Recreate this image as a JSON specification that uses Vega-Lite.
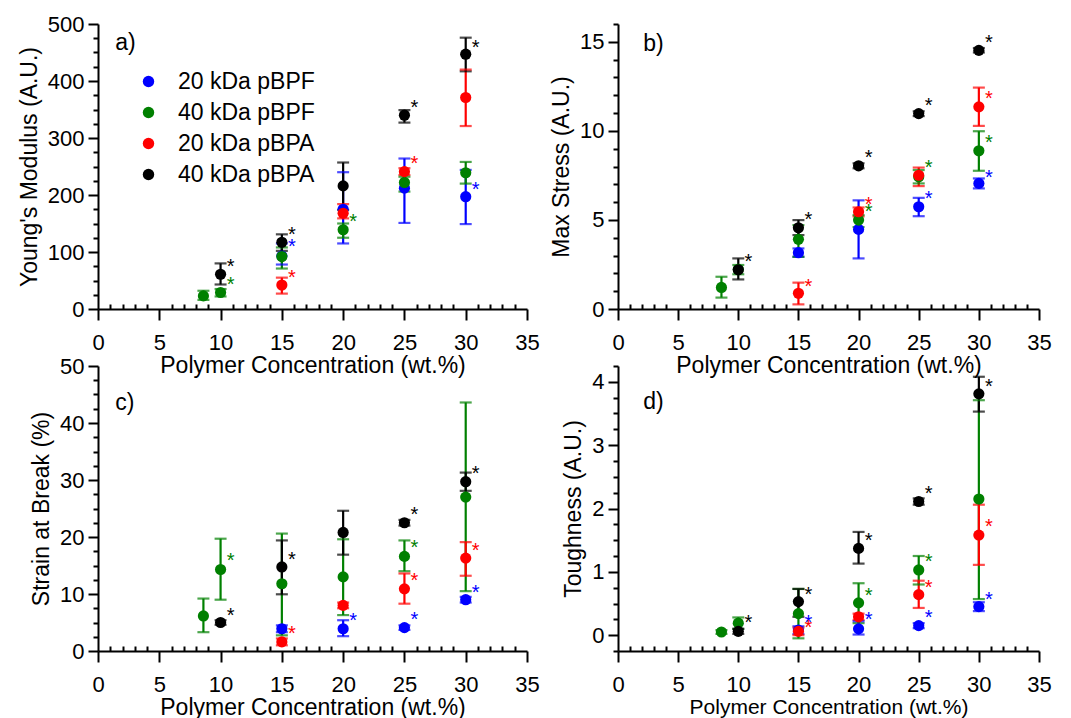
{
  "$schema": "https://vega.github.io/schema/vega-lite/v6.json",
  "padding": {"left": 18, "top": 13, "right": 10, "bottom": 5},
  "datasets": {
    "d": [
      {"p": "a", "s": "20 kDa pBPF", "x": 15, "y": 93, "lo": 78, "hi": 115, "sy": 118},
      {"p": "a", "s": "20 kDa pBPF", "x": 20, "y": 175, "lo": 115, "hi": 240, "sy": null},
      {"p": "a", "s": "20 kDa pBPF", "x": 25, "y": 212, "lo": 151, "hi": 264, "sy": null},
      {"p": "a", "s": "20 kDa pBPF", "x": 30, "y": 197, "lo": 149, "hi": 244, "sy": 218},
      {"p": "a", "s": "40 kDa pBPF", "x": 8.6, "y": 23, "lo": 16, "hi": 32, "sy": null},
      {"p": "a", "s": "40 kDa pBPF", "x": 10, "y": 29, "lo": 22, "hi": 35, "sy": 51},
      {"p": "a", "s": "40 kDa pBPF", "x": 15, "y": 92, "lo": 71, "hi": 108, "sy": null},
      {"p": "a", "s": "40 kDa pBPF", "x": 20, "y": 139, "lo": 125, "hi": 150, "sy": 161},
      {"p": "a", "s": "40 kDa pBPF", "x": 25, "y": 222, "lo": 206, "hi": 232, "sy": null},
      {"p": "a", "s": "40 kDa pBPF", "x": 30, "y": 239, "lo": 220, "hi": 258, "sy": null},
      {"p": "a", "s": "20 kDa pBPA", "x": 15, "y": 42, "lo": 27, "hi": 55, "sy": 63},
      {"p": "a", "s": "20 kDa pBPA", "x": 20, "y": 168, "lo": 159, "hi": 184, "sy": null},
      {"p": "a", "s": "20 kDa pBPA", "x": 25, "y": 241, "lo": 235, "hi": 247, "sy": 264},
      {"p": "a", "s": "20 kDa pBPA", "x": 30, "y": 371, "lo": 321, "hi": 420, "sy": null},
      {"p": "a", "s": "40 kDa pBPA", "x": 10, "y": 61, "lo": 43, "hi": 80, "sy": 83},
      {"p": "a", "s": "40 kDa pBPA", "x": 15, "y": 117, "lo": 102, "hi": 131, "sy": 139},
      {"p": "a", "s": "40 kDa pBPA", "x": 20, "y": 216, "lo": 174, "hi": 257, "sy": null},
      {"p": "a", "s": "40 kDa pBPA", "x": 25, "y": 340, "lo": 327, "hi": 349, "sy": 361},
      {"p": "a", "s": "40 kDa pBPA", "x": 30, "y": 447, "lo": 417, "hi": 476, "sy": 466},

      {"p": "b", "s": "20 kDa pBPF", "x": 15, "y": 3.16, "lo": 2.93, "hi": 3.40, "sy": null},
      {"p": "b", "s": "20 kDa pBPF", "x": 20, "y": 4.47, "lo": 2.84, "hi": 6.10, "sy": null},
      {"p": "b", "s": "20 kDa pBPF", "x": 25, "y": 5.74, "lo": 5.21, "hi": 6.24, "sy": 6.43},
      {"p": "b", "s": "20 kDa pBPF", "x": 30, "y": 7.05, "lo": 6.77, "hi": 7.33, "sy": 7.66},
      {"p": "b", "s": "40 kDa pBPF", "x": 8.6, "y": 1.21, "lo": 0.64, "hi": 1.81, "sy": null},
      {"p": "b", "s": "40 kDa pBPF", "x": 10, "y": 2.22, "lo": 1.95, "hi": 2.47, "sy": null},
      {"p": "b", "s": "40 kDa pBPF", "x": 15, "y": 3.91, "lo": 2.93, "hi": 4.71, "sy": null},
      {"p": "b", "s": "40 kDa pBPF", "x": 20, "y": 4.99, "lo": 4.6, "hi": 5.27, "sy": 5.70},
      {"p": "b", "s": "40 kDa pBPF", "x": 25, "y": 7.42, "lo": 7.05, "hi": 7.8, "sy": 8.17},
      {"p": "b", "s": "40 kDa pBPF", "x": 30, "y": 8.88, "lo": 7.76, "hi": 9.98, "sy": 9.61},
      {"p": "b", "s": "20 kDa pBPA", "x": 15, "y": 0.88, "lo": 0.26, "hi": 1.48, "sy": 1.53},
      {"p": "b", "s": "20 kDa pBPA", "x": 20, "y": 5.46, "lo": 5.2, "hi": 5.7, "sy": 6.11},
      {"p": "b", "s": "20 kDa pBPA", "x": 25, "y": 7.51, "lo": 6.9, "hi": 7.94, "sy": null},
      {"p": "b", "s": "20 kDa pBPA", "x": 30, "y": 11.35, "lo": 10.28, "hi": 12.43, "sy": 12.09},
      {"p": "b", "s": "40 kDa pBPA", "x": 10, "y": 2.2, "lo": 1.66, "hi": 2.84, "sy": 2.93},
      {"p": "b", "s": "40 kDa pBPA", "x": 15, "y": 4.56, "lo": 4.15, "hi": 4.99, "sy": 5.27},
      {"p": "b", "s": "40 kDa pBPA", "x": 20, "y": 8.04, "lo": 7.9, "hi": 8.18, "sy": 8.73},
      {"p": "b", "s": "40 kDa pBPA", "x": 25, "y": 10.97, "lo": 10.83, "hi": 11.1, "sy": 11.68},
      {"p": "b", "s": "40 kDa pBPA", "x": 30, "y": 14.52, "lo": 14.4, "hi": 14.65, "sy": 15.23},

      {"p": "c", "s": "20 kDa pBPF", "x": 15, "y": 3.9, "lo": 3.3, "hi": 4.5, "sy": null},
      {"p": "c", "s": "20 kDa pBPF", "x": 20, "y": 3.9, "lo": 2.6, "hi": 5.4, "sy": 6.1},
      {"p": "c", "s": "20 kDa pBPF", "x": 25, "y": 4.1, "lo": 3.7, "hi": 4.5, "sy": 6.3},
      {"p": "c", "s": "20 kDa pBPF", "x": 30, "y": 9.0, "lo": 8.5, "hi": 9.5, "sy": 11.1},
      {"p": "c", "s": "40 kDa pBPF", "x": 8.6, "y": 6.15, "lo": 3.3, "hi": 9.2, "sy": null},
      {"p": "c", "s": "40 kDa pBPF", "x": 10, "y": 14.3, "lo": 9.0, "hi": 19.7, "sy": 16.6},
      {"p": "c", "s": "40 kDa pBPF", "x": 15, "y": 11.8, "lo": 2.75, "hi": 20.6, "sy": null},
      {"p": "c", "s": "40 kDa pBPF", "x": 20, "y": 13.0, "lo": 6.3, "hi": 19.6, "sy": null},
      {"p": "c", "s": "40 kDa pBPF", "x": 25, "y": 16.6, "lo": 14.0, "hi": 19.4, "sy": 19.0},
      {"p": "c", "s": "40 kDa pBPF", "x": 30, "y": 27.0, "lo": 10.5, "hi": 43.6, "sy": null},
      {"p": "c", "s": "20 kDa pBPA", "x": 15, "y": 1.6, "lo": 1.0, "hi": 2.2, "sy": 3.9},
      {"p": "c", "s": "20 kDa pBPA", "x": 20, "y": 8.0, "lo": 7.5, "hi": 8.5, "sy": null},
      {"p": "c", "s": "20 kDa pBPA", "x": 25, "y": 10.9, "lo": 8.3, "hi": 13.6, "sy": 13.1},
      {"p": "c", "s": "20 kDa pBPA", "x": 30, "y": 16.3, "lo": 13.2, "hi": 19.1, "sy": 18.4},
      {"p": "c", "s": "40 kDa pBPA", "x": 10, "y": 5.0, "lo": 4.6, "hi": 5.4, "sy": 7.1},
      {"p": "c", "s": "40 kDa pBPA", "x": 15, "y": 14.75, "lo": 9.95, "hi": 19.4, "sy": 16.8},
      {"p": "c", "s": "40 kDa pBPA", "x": 20, "y": 20.8, "lo": 16.9, "hi": 24.6, "sy": null},
      {"p": "c", "s": "40 kDa pBPA", "x": 25, "y": 22.5, "lo": 22.0, "hi": 23.0, "sy": 24.7},
      {"p": "c", "s": "40 kDa pBPA", "x": 30, "y": 29.7, "lo": 28.1, "hi": 31.3, "sy": 31.9},

      {"p": "d", "s": "20 kDa pBPF", "x": 15, "y": 0.08, "lo": 0.02, "hi": 0.14, "sy": 0.27},
      {"p": "d", "s": "20 kDa pBPF", "x": 20, "y": 0.10, "lo": 0.01, "hi": 0.22, "sy": 0.32},
      {"p": "d", "s": "20 kDa pBPF", "x": 25, "y": 0.15, "lo": 0.11, "hi": 0.19, "sy": 0.35},
      {"p": "d", "s": "20 kDa pBPF", "x": 30, "y": 0.45, "lo": 0.38, "hi": 0.52, "sy": 0.64},
      {"p": "d", "s": "40 kDa pBPF", "x": 8.6, "y": 0.05, "lo": 0.02, "hi": 0.08, "sy": null},
      {"p": "d", "s": "40 kDa pBPF", "x": 10, "y": 0.19, "lo": 0.1, "hi": 0.28, "sy": null},
      {"p": "d", "s": "40 kDa pBPF", "x": 15, "y": 0.34, "lo": -0.05, "hi": 0.73, "sy": null},
      {"p": "d", "s": "40 kDa pBPF", "x": 20, "y": 0.51, "lo": 0.19, "hi": 0.82, "sy": 0.7},
      {"p": "d", "s": "40 kDa pBPF", "x": 25, "y": 1.03, "lo": 0.8, "hi": 1.25, "sy": 1.23},
      {"p": "d", "s": "40 kDa pBPF", "x": 30, "y": 2.15, "lo": 0.57, "hi": 3.71, "sy": null},
      {"p": "d", "s": "20 kDa pBPA", "x": 15, "y": 0.06, "lo": 0.0, "hi": 0.12, "sy": 0.2},
      {"p": "d", "s": "20 kDa pBPA", "x": 20, "y": 0.29, "lo": 0.24, "hi": 0.34, "sy": null},
      {"p": "d", "s": "20 kDa pBPA", "x": 25, "y": 0.64, "lo": 0.43, "hi": 0.86, "sy": 0.83},
      {"p": "d", "s": "20 kDa pBPA", "x": 30, "y": 1.58, "lo": 1.11, "hi": 2.06, "sy": 1.78},
      {"p": "d", "s": "40 kDa pBPA", "x": 10, "y": 0.06, "lo": 0.02, "hi": 0.1, "sy": 0.27},
      {"p": "d", "s": "40 kDa pBPA", "x": 15, "y": 0.53, "lo": 0.29, "hi": 0.73, "sy": 0.72},
      {"p": "d", "s": "40 kDa pBPA", "x": 20, "y": 1.37, "lo": 1.13, "hi": 1.63, "sy": 1.57},
      {"p": "d", "s": "40 kDa pBPA", "x": 25, "y": 2.11, "lo": 2.06, "hi": 2.16, "sy": 2.31},
      {"p": "d", "s": "40 kDa pBPA", "x": 30, "y": 3.81, "lo": 3.53, "hi": 4.08, "sy": 4.0}
    ],
    "labels": [
      {"p": "a", "lbl": "a)", "lx": 1.4, "ly": 467},
      {"p": "b", "lbl": "b)", "lx": 2.1, "ly": 14.9},
      {"p": "c", "lbl": "c)", "lx": 1.4, "ly": 43.5},
      {"p": "d", "lbl": "d)", "lx": 2.1, "ly": 3.68}
    ]
  },
  "data": {"name": "d"},
  "columns": 2,
  "spacing": {"row": 57, "column": 91},
  "bounds": "flush",
  "resolve": {"legend": {"color": "independent"}},
  "concat": [
    {
      "width": 429, "height": 285,
      "encoding": {
        "x": {"field": "x", "type": "quantitative", "title": "Polymer Concentration (wt.%)",
              "scale": {"domain": [0, 35], "nice": false},
              "axis": {"values": [0,1,2,3,4,5,6,7,8,9,10,11,12,13,14,15,16,17,18,19,20,21,22,23,24,25,26,27,28,29,30,31,32,33,34,35], "tickCount": 100,
                       "labelExpr": "datum.value % 5 === 0 ? format(datum.value, 'd') : ''",
                       "tickSize": {"condition": {"test": "datum.value % 5 === 0", "value": 11}, "value": -5}}},
        "color": {"field": "s", "type": "nominal",
                  "scale": {"domain": ["20 kDa pBPF", "40 kDa pBPF", "20 kDa pBPA", "40 kDa pBPA"], "range": ["#0000FF", "#008000", "#FF0000", "#000000"]},
                  "legend": {"orient": "none", "legendX": 39, "legendY": 46, "title": null, "symbolType": "circle", "symbolSize": 130, "symbolOpacity": 1, "symbolStrokeWidth": 0, "labelFontSize": 23, "labelOffset": 18, "rowPadding": 7, "padding": 0, "labelColor": "#000"}}
      },
      "layer": [
        {"transform": [{"filter": "datum.p === 'a'"}],
         "mark": {"type": "rule", "strokeWidth": 2.2},
         "encoding": {"y": {"field": "lo", "type": "quantitative", "title": "Young's Modulus (A.U.)", "scale": {"domain": [0, 500], "nice": false},
                            "axis": {"values": [0,25,50,75,100,125,150,175,200,225,250,275,300,325,350,375,400,425,450,475,500], "tickCount": 100,
                                     "labelExpr": "datum.value % 100 === 0 ? format(datum.value, 'd') : ''",
                                     "tickSize": {"condition": {"test": "datum.value % 100 === 0", "value": 10}, "value": 5}}},
                      "y2": {"field": "hi"}}},
        {"transform": [{"filter": "datum.p === 'a'"}],
         "mark": {"type": "tick", "orient": "horizontal", "size": 12, "thickness": 2.2},
         "encoding": {"y": {"field": "lo", "type": "quantitative", "title": "Young's Modulus (A.U.)", "scale": {"domain": [0, 500], "nice": false},
                            "axis": {"values": [0,25,50,75,100,125,150,175,200,225,250,275,300,325,350,375,400,425,450,475,500], "tickCount": 100,
                                     "labelExpr": "datum.value % 100 === 0 ? format(datum.value, 'd') : ''",
                                     "tickSize": {"condition": {"test": "datum.value % 100 === 0", "value": 10}, "value": 5}}}}},
        {"transform": [{"filter": "datum.p === 'a'"}],
         "mark": {"type": "tick", "orient": "horizontal", "size": 12, "thickness": 2.2},
         "encoding": {"y": {"field": "hi", "type": "quantitative", "title": "Young's Modulus (A.U.)", "scale": {"domain": [0, 500], "nice": false},
                            "axis": {"values": [0,25,50,75,100,125,150,175,200,225,250,275,300,325,350,375,400,425,450,475,500], "tickCount": 100,
                                     "labelExpr": "datum.value % 100 === 0 ? format(datum.value, 'd') : ''",
                                     "tickSize": {"condition": {"test": "datum.value % 100 === 0", "value": 10}, "value": 5}}}}},
        {"transform": [{"filter": "datum.p === 'a'"}],
         "mark": {"type": "circle", "size": 125, "opacity": 1},
         "encoding": {"y": {"field": "y", "type": "quantitative", "title": "Young's Modulus (A.U.)", "scale": {"domain": [0, 500], "nice": false},
                            "axis": {"values": [0,25,50,75,100,125,150,175,200,225,250,275,300,325,350,375,400,425,450,475,500], "tickCount": 100,
                                     "labelExpr": "datum.value % 100 === 0 ? format(datum.value, 'd') : ''",
                                     "tickSize": {"condition": {"test": "datum.value % 100 === 0", "value": 10}, "value": 5}}}}},
        {"transform": [{"filter": "datum.p === 'a' && datum.sy != null"}],
         "mark": {"type": "text", "text": "*", "fontSize": 20, "dx": 10, "dy": 11, "baseline": "alphabetic", "align": "center"},
         "encoding": {"y": {"field": "sy", "type": "quantitative", "title": "Young's Modulus (A.U.)", "scale": {"domain": [0, 500], "nice": false},
                            "axis": {"values": [0,25,50,75,100,125,150,175,200,225,250,275,300,325,350,375,400,425,450,475,500], "tickCount": 100,
                                     "labelExpr": "datum.value % 100 === 0 ? format(datum.value, 'd') : ''",
                                     "tickSize": {"condition": {"test": "datum.value % 100 === 0", "value": 10}, "value": 5}}}}},
        {"data": {"name": "labels"},
         "transform": [{"filter": "datum.p === 'a'"}],
         "mark": {"type": "text", "fontSize": 23, "align": "left", "baseline": "middle"},
         "encoding": {"x": {"field": "lx", "type": "quantitative", "title": "Polymer Concentration (wt.%)", "scale": {"domain": [0, 35], "nice": false}},
                      "y": {"field": "ly", "type": "quantitative", "title": "Young's Modulus (A.U.)", "scale": {"domain": [0, 500], "nice": false},
                            "axis": {"values": [0,25,50,75,100,125,150,175,200,225,250,275,300,325,350,375,400,425,450,475,500], "tickCount": 100,
                                     "labelExpr": "datum.value % 100 === 0 ? format(datum.value, 'd') : ''",
                                     "tickSize": {"condition": {"test": "datum.value % 100 === 0", "value": 10}, "value": 5}}},
                      "text": {"field": "lbl"}, "color": {"value": "#000"}}}
      ]
    },
    {
      "width": 421, "height": 285,
      "encoding": {
        "x": {"field": "x", "type": "quantitative", "title": "Polymer Concentration (wt.%)",
              "scale": {"domain": [0, 35], "nice": false},
              "axis": {"values": [0,1,2,3,4,5,6,7,8,9,10,11,12,13,14,15,16,17,18,19,20,21,22,23,24,25,26,27,28,29,30,31,32,33,34,35], "tickCount": 100,
                       "labelExpr": "datum.value % 5 === 0 ? format(datum.value, 'd') : ''",
                       "tickSize": {"condition": {"test": "datum.value % 5 === 0", "value": 11}, "value": -5}}},
        "color": {"field": "s", "type": "nominal",
                  "scale": {"domain": ["20 kDa pBPF", "40 kDa pBPF", "20 kDa pBPA", "40 kDa pBPA"], "range": ["#0000FF", "#008000", "#FF0000", "#000000"]},
                  "legend": null}
      },
      "layer": [
        {"transform": [{"filter": "datum.p === 'b'"}],
         "mark": {"type": "rule", "strokeWidth": 2.2},
         "encoding": {"y": {"field": "lo", "type": "quantitative", "title": "Max Stress (A.U.)", "scale": {"domain": [0, 16], "nice": false},
                            "axis": {"values": [0,1,2,3,4,5,6,7,8,9,10,11,12,13,14,15,16], "tickCount": 100,
                                     "labelExpr": "datum.value % 5 === 0 ? format(datum.value, 'd') : ''",
                                     "tickSize": {"condition": {"test": "datum.value % 5 === 0", "value": 10}, "value": 5}}},
                      "y2": {"field": "hi"}}},
        {"transform": [{"filter": "datum.p === 'b'"}],
         "mark": {"type": "tick", "orient": "horizontal", "size": 12, "thickness": 2.2},
         "encoding": {"y": {"field": "lo", "type": "quantitative", "title": "Max Stress (A.U.)", "scale": {"domain": [0, 16], "nice": false},
                            "axis": {"values": [0,1,2,3,4,5,6,7,8,9,10,11,12,13,14,15,16], "tickCount": 100,
                                     "labelExpr": "datum.value % 5 === 0 ? format(datum.value, 'd') : ''",
                                     "tickSize": {"condition": {"test": "datum.value % 5 === 0", "value": 10}, "value": 5}}}}},
        {"transform": [{"filter": "datum.p === 'b'"}],
         "mark": {"type": "tick", "orient": "horizontal", "size": 12, "thickness": 2.2},
         "encoding": {"y": {"field": "hi", "type": "quantitative", "title": "Max Stress (A.U.)", "scale": {"domain": [0, 16], "nice": false},
                            "axis": {"values": [0,1,2,3,4,5,6,7,8,9,10,11,12,13,14,15,16], "tickCount": 100,
                                     "labelExpr": "datum.value % 5 === 0 ? format(datum.value, 'd') : ''",
                                     "tickSize": {"condition": {"test": "datum.value % 5 === 0", "value": 10}, "value": 5}}}}},
        {"transform": [{"filter": "datum.p === 'b'"}],
         "mark": {"type": "circle", "size": 125, "opacity": 1},
         "encoding": {"y": {"field": "y", "type": "quantitative", "title": "Max Stress (A.U.)", "scale": {"domain": [0, 16], "nice": false},
                            "axis": {"values": [0,1,2,3,4,5,6,7,8,9,10,11,12,13,14,15,16], "tickCount": 100,
                                     "labelExpr": "datum.value % 5 === 0 ? format(datum.value, 'd') : ''",
                                     "tickSize": {"condition": {"test": "datum.value % 5 === 0", "value": 10}, "value": 5}}}}},
        {"transform": [{"filter": "datum.p === 'b' && datum.sy != null"}],
         "mark": {"type": "text", "text": "*", "fontSize": 20, "dx": 10, "dy": 11, "baseline": "alphabetic", "align": "center"},
         "encoding": {"y": {"field": "sy", "type": "quantitative", "title": "Max Stress (A.U.)", "scale": {"domain": [0, 16], "nice": false},
                            "axis": {"values": [0,1,2,3,4,5,6,7,8,9,10,11,12,13,14,15,16], "tickCount": 100,
                                     "labelExpr": "datum.value % 5 === 0 ? format(datum.value, 'd') : ''",
                                     "tickSize": {"condition": {"test": "datum.value % 5 === 0", "value": 10}, "value": 5}}}}},
        {"data": {"name": "labels"},
         "transform": [{"filter": "datum.p === 'b'"}],
         "mark": {"type": "text", "fontSize": 23, "align": "left", "baseline": "middle"},
         "encoding": {"x": {"field": "lx", "type": "quantitative", "title": "Polymer Concentration (wt.%)", "scale": {"domain": [0, 35], "nice": false}},
                      "y": {"field": "ly", "type": "quantitative", "title": "Max Stress (A.U.)", "scale": {"domain": [0, 16], "nice": false},
                            "axis": {"values": [0,1,2,3,4,5,6,7,8,9,10,11,12,13,14,15,16], "tickCount": 100,
                                     "labelExpr": "datum.value % 5 === 0 ? format(datum.value, 'd') : ''",
                                     "tickSize": {"condition": {"test": "datum.value % 5 === 0", "value": 10}, "value": 5}}},
                      "text": {"field": "lbl"}, "color": {"value": "#000"}}}
      ]
    },
    {
      "width": 429, "height": 285,
      "encoding": {
        "x": {"field": "x", "type": "quantitative", "title": "Polymer Concentration (wt.%)",
              "scale": {"domain": [0, 35], "nice": false},
              "axis": {"values": [0,1,2,3,4,5,6,7,8,9,10,11,12,13,14,15,16,17,18,19,20,21,22,23,24,25,26,27,28,29,30,31,32,33,34,35], "tickCount": 100,
                       "labelExpr": "datum.value % 5 === 0 ? format(datum.value, 'd') : ''",
                       "tickSize": {"condition": {"test": "datum.value % 5 === 0", "value": 11}, "value": -5}}},
        "color": {"field": "s", "type": "nominal",
                  "scale": {"domain": ["20 kDa pBPF", "40 kDa pBPF", "20 kDa pBPA", "40 kDa pBPA"], "range": ["#0000FF", "#008000", "#FF0000", "#000000"]},
                  "legend": null}
      },
      "layer": [
        {"transform": [{"filter": "datum.p === 'c'"}],
         "mark": {"type": "rule", "strokeWidth": 2.2},
         "encoding": {"y": {"field": "lo", "type": "quantitative", "title": "Strain at Break (%)", "scale": {"domain": [0, 50], "nice": false},
                            "axis": {"values": [0,2.5,5,7.5,10,12.5,15,17.5,20,22.5,25,27.5,30,32.5,35,37.5,40,42.5,45,47.5,50], "tickCount": 100,
                                     "labelExpr": "datum.value % 10 === 0 ? format(datum.value, 'd') : ''",
                                     "tickSize": {"condition": {"test": "datum.value % 10 === 0", "value": 10}, "value": 5}}},
                      "y2": {"field": "hi"}}},
        {"transform": [{"filter": "datum.p === 'c'"}],
         "mark": {"type": "tick", "orient": "horizontal", "size": 12, "thickness": 2.2},
         "encoding": {"y": {"field": "lo", "type": "quantitative", "title": "Strain at Break (%)", "scale": {"domain": [0, 50], "nice": false},
                            "axis": {"values": [0,2.5,5,7.5,10,12.5,15,17.5,20,22.5,25,27.5,30,32.5,35,37.5,40,42.5,45,47.5,50], "tickCount": 100,
                                     "labelExpr": "datum.value % 10 === 0 ? format(datum.value, 'd') : ''",
                                     "tickSize": {"condition": {"test": "datum.value % 10 === 0", "value": 10}, "value": 5}}}}},
        {"transform": [{"filter": "datum.p === 'c'"}],
         "mark": {"type": "tick", "orient": "horizontal", "size": 12, "thickness": 2.2},
         "encoding": {"y": {"field": "hi", "type": "quantitative", "title": "Strain at Break (%)", "scale": {"domain": [0, 50], "nice": false},
                            "axis": {"values": [0,2.5,5,7.5,10,12.5,15,17.5,20,22.5,25,27.5,30,32.5,35,37.5,40,42.5,45,47.5,50], "tickCount": 100,
                                     "labelExpr": "datum.value % 10 === 0 ? format(datum.value, 'd') : ''",
                                     "tickSize": {"condition": {"test": "datum.value % 10 === 0", "value": 10}, "value": 5}}}}},
        {"transform": [{"filter": "datum.p === 'c'"}],
         "mark": {"type": "circle", "size": 125, "opacity": 1},
         "encoding": {"y": {"field": "y", "type": "quantitative", "title": "Strain at Break (%)", "scale": {"domain": [0, 50], "nice": false},
                            "axis": {"values": [0,2.5,5,7.5,10,12.5,15,17.5,20,22.5,25,27.5,30,32.5,35,37.5,40,42.5,45,47.5,50], "tickCount": 100,
                                     "labelExpr": "datum.value % 10 === 0 ? format(datum.value, 'd') : ''",
                                     "tickSize": {"condition": {"test": "datum.value % 10 === 0", "value": 10}, "value": 5}}}}},
        {"transform": [{"filter": "datum.p === 'c' && datum.sy != null"}],
         "mark": {"type": "text", "text": "*", "fontSize": 20, "dx": 10, "dy": 11, "baseline": "alphabetic", "align": "center"},
         "encoding": {"y": {"field": "sy", "type": "quantitative", "title": "Strain at Break (%)", "scale": {"domain": [0, 50], "nice": false},
                            "axis": {"values": [0,2.5,5,7.5,10,12.5,15,17.5,20,22.5,25,27.5,30,32.5,35,37.5,40,42.5,45,47.5,50], "tickCount": 100,
                                     "labelExpr": "datum.value % 10 === 0 ? format(datum.value, 'd') : ''",
                                     "tickSize": {"condition": {"test": "datum.value % 10 === 0", "value": 10}, "value": 5}}}}},
        {"data": {"name": "labels"},
         "transform": [{"filter": "datum.p === 'c'"}],
         "mark": {"type": "text", "fontSize": 23, "align": "left", "baseline": "middle"},
         "encoding": {"x": {"field": "lx", "type": "quantitative", "title": "Polymer Concentration (wt.%)", "scale": {"domain": [0, 35], "nice": false}},
                      "y": {"field": "ly", "type": "quantitative", "title": "Strain at Break (%)", "scale": {"domain": [0, 50], "nice": false},
                            "axis": {"values": [0,2.5,5,7.5,10,12.5,15,17.5,20,22.5,25,27.5,30,32.5,35,37.5,40,42.5,45,47.5,50], "tickCount": 100,
                                     "labelExpr": "datum.value % 10 === 0 ? format(datum.value, 'd') : ''",
                                     "tickSize": {"condition": {"test": "datum.value % 10 === 0", "value": 10}, "value": 5}}},
                      "text": {"field": "lbl"}, "color": {"value": "#000"}}}
      ]
    },
    {
      "width": 421, "height": 285,
      "encoding": {
        "x": {"field": "x", "type": "quantitative", "title": "Polymer Concentration (wt.%)",
              "scale": {"domain": [0, 35], "nice": false},
              "axis": {"values": [0,1,2,3,4,5,6,7,8,9,10,11,12,13,14,15,16,17,18,19,20,21,22,23,24,25,26,27,28,29,30,31,32,33,34,35], "tickCount": 100,
                       "labelExpr": "datum.value % 5 === 0 ? format(datum.value, 'd') : ''", "titleFontSize": 21,
                       "tickSize": {"condition": {"test": "datum.value % 5 === 0", "value": 11}, "value": -5}}},
        "color": {"field": "s", "type": "nominal",
                  "scale": {"domain": ["20 kDa pBPF", "40 kDa pBPF", "20 kDa pBPA", "40 kDa pBPA"], "range": ["#0000FF", "#008000", "#FF0000", "#000000"]},
                  "legend": null}
      },
      "layer": [
        {"transform": [{"filter": "datum.p === 'd'"}],
         "mark": {"type": "rule", "strokeWidth": 2.2},
         "encoding": {"y": {"field": "lo", "type": "quantitative", "title": "Toughness (A.U.)", "scale": {"domain": [-0.25, 4.25], "nice": false, "zero": false},
                            "axis": {"values": [-0.25,0,0.25,0.5,0.75,1,1.25,1.5,1.75,2,2.25,2.5,2.75,3,3.25,3.5,3.75,4,4.25], "tickCount": 100,
                                     "labelExpr": "datum.value % 1 === 0 ? format(datum.value, 'd') : ''",
                                     "tickSize": {"condition": {"test": "datum.value % 1 === 0", "value": 10}, "value": 5}}},
                      "y2": {"field": "hi"}}},
        {"transform": [{"filter": "datum.p === 'd'"}],
         "mark": {"type": "tick", "orient": "horizontal", "size": 12, "thickness": 2.2},
         "encoding": {"y": {"field": "lo", "type": "quantitative", "title": "Toughness (A.U.)", "scale": {"domain": [-0.25, 4.25], "nice": false, "zero": false},
                            "axis": {"values": [-0.25,0,0.25,0.5,0.75,1,1.25,1.5,1.75,2,2.25,2.5,2.75,3,3.25,3.5,3.75,4,4.25], "tickCount": 100,
                                     "labelExpr": "datum.value % 1 === 0 ? format(datum.value, 'd') : ''",
                                     "tickSize": {"condition": {"test": "datum.value % 1 === 0", "value": 10}, "value": 5}}}}},
        {"transform": [{"filter": "datum.p === 'd'"}],
         "mark": {"type": "tick", "orient": "horizontal", "size": 12, "thickness": 2.2},
         "encoding": {"y": {"field": "hi", "type": "quantitative", "title": "Toughness (A.U.)", "scale": {"domain": [-0.25, 4.25], "nice": false, "zero": false},
                            "axis": {"values": [-0.25,0,0.25,0.5,0.75,1,1.25,1.5,1.75,2,2.25,2.5,2.75,3,3.25,3.5,3.75,4,4.25], "tickCount": 100,
                                     "labelExpr": "datum.value % 1 === 0 ? format(datum.value, 'd') : ''",
                                     "tickSize": {"condition": {"test": "datum.value % 1 === 0", "value": 10}, "value": 5}}}}},
        {"transform": [{"filter": "datum.p === 'd'"}],
         "mark": {"type": "circle", "size": 125, "opacity": 1},
         "encoding": {"y": {"field": "y", "type": "quantitative", "title": "Toughness (A.U.)", "scale": {"domain": [-0.25, 4.25], "nice": false, "zero": false},
                            "axis": {"values": [-0.25,0,0.25,0.5,0.75,1,1.25,1.5,1.75,2,2.25,2.5,2.75,3,3.25,3.5,3.75,4,4.25], "tickCount": 100,
                                     "labelExpr": "datum.value % 1 === 0 ? format(datum.value, 'd') : ''",
                                     "tickSize": {"condition": {"test": "datum.value % 1 === 0", "value": 10}, "value": 5}}}}},
        {"transform": [{"filter": "datum.p === 'd' && datum.sy != null"}],
         "mark": {"type": "text", "text": "*", "fontSize": 20, "dx": 10, "dy": 11, "baseline": "alphabetic", "align": "center"},
         "encoding": {"y": {"field": "sy", "type": "quantitative", "title": "Toughness (A.U.)", "scale": {"domain": [-0.25, 4.25], "nice": false, "zero": false},
                            "axis": {"values": [-0.25,0,0.25,0.5,0.75,1,1.25,1.5,1.75,2,2.25,2.5,2.75,3,3.25,3.5,3.75,4,4.25], "tickCount": 100,
                                     "labelExpr": "datum.value % 1 === 0 ? format(datum.value, 'd') : ''",
                                     "tickSize": {"condition": {"test": "datum.value % 1 === 0", "value": 10}, "value": 5}}}}},
        {"data": {"name": "labels"},
         "transform": [{"filter": "datum.p === 'd'"}],
         "mark": {"type": "text", "fontSize": 23, "align": "left", "baseline": "middle"},
         "encoding": {"x": {"field": "lx", "type": "quantitative", "title": "Polymer Concentration (wt.%)", "scale": {"domain": [0, 35], "nice": false}},
                      "y": {"field": "ly", "type": "quantitative", "title": "Toughness (A.U.)", "scale": {"domain": [-0.25, 4.25], "nice": false, "zero": false},
                            "axis": {"values": [-0.25,0,0.25,0.5,0.75,1,1.25,1.5,1.75,2,2.25,2.5,2.75,3,3.25,3.5,3.75,4,4.25], "tickCount": 100,
                                     "labelExpr": "datum.value % 1 === 0 ? format(datum.value, 'd') : ''",
                                     "tickSize": {"condition": {"test": "datum.value % 1 === 0", "value": 10}, "value": 5}}},
                      "text": {"field": "lbl"}, "color": {"value": "#000"}}}
      ]
    }
  ],
  "config": {
    "view": {"stroke": null},
    "font": "Liberation Sans",
    "axis": {
      "grid": false,
      "domainColor": "#000", "domainWidth": 2,
      "tickColor": "#000", "tickWidth": 2,
      "labelColor": "#000", "labelFontSize": 22, "labelPadding": 4,
      "titleColor": "#000", "titleFontSize": 23, "titleFontWeight": "normal",
      "labelOverlap": false, "labelFlush": false
    },
    "axisX": {"titlePadding": 1, "labelPadding": 12},
    "axisY": {"titlePadding": 6}
  }
}
